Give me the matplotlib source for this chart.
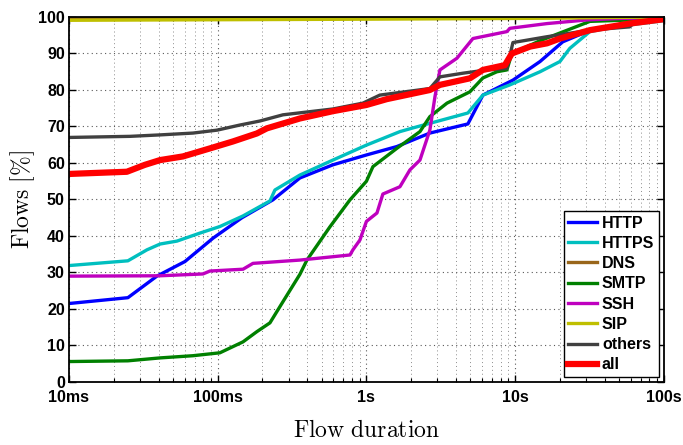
import matplotlib
matplotlib.use("Agg")
import matplotlib.pyplot as plt
from matplotlib.ticker import LogLocator, NullFormatter, FixedLocator

# ---- data (duration in seconds, CDF in %) ----
http_x = [0.01, 0.0249, 0.039, 0.0602, 0.093, 0.1455, 0.235, 0.357, 0.595, 1.0, 1.60, 2.67, 4.81, 6.07, 9.66, 14.7, 20.9, 30.4, 50.6, 100]
http_y = [21.5, 23.1, 29.0, 33.0, 39.4, 45.0, 49.9, 55.9, 59.5, 62.2, 64.5, 68.2, 70.7, 78.6, 82.7, 87.8, 93.2, 96.0, 98.0, 99.3]

https_x = [0.01, 0.0249, 0.0334, 0.041, 0.0532, 0.076, 0.1035, 0.148, 0.2245, 0.2425, 0.357, 0.595, 1.0, 1.68, 2.05, 4.81, 6.07, 9.22, 14.7, 20.0, 23.3, 31.8, 50.6, 100]
https_y = [31.9, 33.2, 36.2, 37.8, 38.6, 40.8, 42.6, 45.5, 49.6, 52.6, 56.7, 60.8, 64.9, 68.6, 69.6, 73.7, 78.6, 81.4, 85.0, 87.8, 91.4, 96.0, 97.5, 99.0]

dns_x = [0.01, 1.0, 10.0, 100]
dns_y = [99.6, 99.7, 99.8, 100.0]

smtp_x = [0.01, 0.0249, 0.041, 0.0682, 0.1035, 0.148, 0.1835, 0.2245, 0.2746, 0.357, 0.398, 0.568, 0.775, 1.0, 1.106, 1.60, 2.29, 2.67, 3.48, 4.96, 6.07, 7.54, 8.8, 9.5, 14.7, 31.8, 100]
smtp_y = [5.6, 5.8, 6.6, 7.2, 8.0, 11.0, 13.8, 16.2, 22.0, 29.5, 33.4, 42.5, 49.9, 55.0, 59.0, 64.0, 68.6, 72.7, 76.4, 79.5, 83.3, 85.0, 85.5, 90.0, 93.5, 98.8, 99.5]

ssh_x = [0.01, 0.041, 0.0796, 0.0887, 0.148, 0.1726, 0.357, 0.775, 0.811, 0.904, 1.0, 1.177, 1.29, 1.68, 1.96, 2.29, 2.67, 2.89, 3.12, 4.06, 5.2, 8.8, 9.22, 16.4, 30.4, 50.6, 100]
ssh_y = [29.0, 29.1, 29.6, 30.4, 30.9, 32.5, 33.4, 34.8, 36.2, 38.9, 44.0, 46.3, 51.5, 53.5, 58.1, 60.8, 69.0, 78.2, 85.5, 88.7, 94.1, 96.0, 96.9, 98.2, 99.2, 99.6, 99.8]

sip_x = [0.01, 1.0, 10.0, 100]
sip_y = [99.1, 99.4, 99.6, 100.0]

others_x = [0.01, 0.0257, 0.041, 0.0682, 0.099, 0.141, 0.192, 0.2746, 0.595, 0.947, 1.23, 2.67, 3.12, 4.45, 6.46, 8.8, 9.66, 16.4, 31.8, 59.0, 62.0, 100]
others_y = [67.0, 67.3, 67.7, 68.2, 69.0, 70.4, 71.5, 73.2, 74.8, 76.4, 78.6, 80.4, 83.6, 84.6, 85.5, 85.9, 93.0, 94.6, 96.4, 97.3, 98.2, 99.2]

all_x = [0.01, 0.0245, 0.0324, 0.041, 0.0584, 0.0887, 0.1266, 0.1835, 0.2143, 0.357, 0.595, 1.0, 1.37, 2.67, 3.12, 4.96, 6.07, 8.53, 9.5, 12.6, 16.4, 20.0, 31.8, 59.0, 100]
all_y = [57.0, 57.6, 59.5, 60.8, 61.8, 64.0, 65.9, 68.1, 69.5, 72.2, 74.2, 75.9, 77.5, 80.0, 81.4, 83.2, 85.5, 86.8, 90.0, 91.9, 92.8, 94.1, 96.4, 98.2, 99.4]

x_ticks = [0.01, 0.1, 1, 10, 100]
x_ticklabels = ["10ms", "100ms", "1s", "10s", "100s"]
y_ticks = [0, 10, 20, 30, 40, 50, 60, 70, 80, 90, 100]

series = [
    ("HTTP", http_x, http_y, (0, 0, 1), 2.4),
    ("HTTPS", https_x, https_y, (0, 0.75, 0.75), 2.4),
    ("DNS", dns_x, dns_y, (0.6, 0.4, 0.1), 2.4),
    ("SMTP", smtp_x, smtp_y, (0, 0.5, 0), 2.4),
    ("SSH", ssh_x, ssh_y, (0.75, 0, 0.75), 2.4),
    ("SIP", sip_x, sip_y, (0.75, 0.75, 0), 2.4),
    ("others", others_x, others_y, (0.25, 0.25, 0.25), 2.4),
    ("all", all_x, all_y, (1, 0, 0), 4.5),
]

plt.rcParams["mathtext.fontset"] = "cm"
fig = plt.figure(figsize=(6.83, 4.45), dpi=100)
ax = fig.add_axes([0.101, 0.1416, 0.871, 0.8202])

for name, xs, ys, col, lw in series:
    ax.plot(xs, ys, color=col, lw=lw, label=name, solid_joinstyle="round")

ax.set_xscale("log")
ax.set_xlim(0.01, 100)
ax.set_ylim(0, 100)
ax.xaxis.set_major_locator(FixedLocator(x_ticks))
ax.set_xticklabels(x_ticklabels)
ax.xaxis.set_minor_locator(LogLocator(base=10, subs=range(2, 10)))
ax.xaxis.set_minor_formatter(NullFormatter())
ax.set_yticks(y_ticks)

ax.grid(True, which="major", linestyle=(0, (1, 3)), color="0.35", lw=0.8)
ax.grid(True, which="minor", axis="x", linestyle=(0, (1, 3)), color="0.55", lw=0.7)
ax.tick_params(which="both", direction="in", top=True, right=True)
ax.tick_params(which="major", length=5, width=1.0)
ax.tick_params(which="minor", length=3, width=0.8)
for s in ax.spines.values():
    s.set_linewidth(1.3)

for lab in ax.get_xticklabels() + ax.get_yticklabels():
    lab.set_fontfamily("Liberation Sans")
    lab.set_fontweight("bold")
    lab.set_fontsize(11.5)
ax.tick_params(axis="x", pad=6)
ax.tick_params(axis="y", pad=3)

ax.set_xlabel(r"$\mathrm{Flow\ duration}$", fontsize=17, labelpad=9)
ax.set_ylabel(r"$\mathrm{Flows\ [\%]}$", fontsize=17, labelpad=1)

leg = ax.legend(loc="lower right", prop={"family": "Liberation Sans", "weight": "bold", "size": 11.5},
                handlelength=1.8, handletextpad=0.3, labelspacing=0.33, borderpad=0.3,
                borderaxespad=0.3, fancybox=False, framealpha=1, edgecolor="black")
leg.get_frame().set_linewidth(1.0)

fig.savefig("out.png", dpi=100)
